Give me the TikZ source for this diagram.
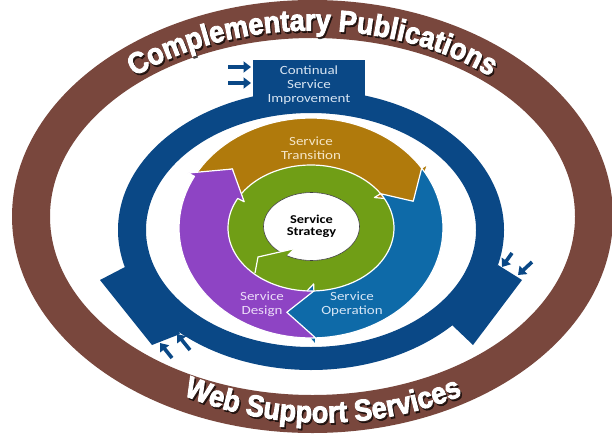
\documentclass[tikz,border=0pt]{standalone}
\usepackage{fontspec}
\setmainfont{Liberation Sans}
\newfontfamily\labfont[FakeStretch=1.2]{Carlito}
\newfontfamily\ringfont[UprightFont={* Bold}, FakeBold=3, FakeStretch=0.9]{Liberation Sans}
\usetikzlibrary{decorations.text,arrows.meta,shapes.geometric}
\definecolor{brownring}{RGB}{121,71,61}
\definecolor{csiblue}{RGB}{10,72,134}
\definecolor{opblue}{RGB}{14,106,168}
\definecolor{goldarr}{RGB}{176,122,12}
\definecolor{purparr}{RGB}{142,68,196}
\definecolor{greenarr}{RGB}{112,158,22}
\definecolor{csitext}{RGB}{215,228,242}
\definecolor{transtext}{RGB}{245,230,200}
\definecolor{destext}{RGB}{236,220,248}
\definecolor{optext}{RGB}{214,230,246}
\newcommand{\cyclearrow}[5]{%
  \filldraw[#1] plot[domain=#2:#4, samples=40] ({ax(\x,1)},{ay(\x,1)})
    -- ({ax(#4,1.15)},{ay(#4,1.15)}) -- ({ax(#5,0.5)},{ay(#5,0.5)})
    -- ({ax(#4,-0.15)},{ay(#4,-0.15)})
    -- plot[domain=#4:#2, samples=40] ({ax(\x,0)},{ay(\x,0)})
    -- ({ax(#3,0.5)},{ay(#3,0.5)}) -- cycle;}
\begin{document}
\begin{tikzpicture}[x=1pt,y=1pt,
  declare function={ax(\ang,\rad)=311+(83+49*\rad)*cos(\ang); ay(\ang,\rad)=212+(63+47*\rad)*sin(\ang);},
  lab/.style={align=center, inner sep=0pt, font=\labfont\fontsize{12.5}{14}\selectfont},
  smallarrow/.style={draw=csiblue, line width=3.6pt, -{Triangle[length=7.5pt,width=11pt]}},
  cyc/.style={draw=white, line width=1.2pt, line join=round},
  ringtxt/.style={decorate, decoration={text along path, text align=center, text color=#1}},
]
\useasboundingbox (0,0) rectangle (612,440);
\fill[white] (0,0) rectangle (612,440);
% brown outer ring
\fill[brownring, even odd rule] (312.5,223.5) ellipse[x radius=300.5, y radius=216.5]
  (312.5,223.5) ellipse[x radius=262.5, y radius=178.5];
% CSI ring
\fill[csiblue, even odd rule] (311,210) ellipse[x radius=193, y radius=140]
  (311,210) ellipse[x radius=165, y radius=117];
\fill[csiblue] (125,173) -- (100,160) -- (152,95) -- (180,106) -- (170,125) -- (135,165) -- cycle;
\fill[csiblue] (498,175) -- (522,160) -- (473,95) -- (452,115) -- (470,140) -- (488,165) -- cycle;
\node[fill=csiblue, minimum width=112pt, minimum height=50pt, lab, text=csitext] (csi) at (309,355) {Continual\\Service\\Improvement};
% small arrows
\coordinate (ta1) at (228,373); \coordinate (ta2) at (251,373);
\coordinate (tb1) at (228,357); \coordinate (tb2) at (251,357);
\coordinate (ra1) at (512,187); \coordinate (ra2) at (502,173);
\coordinate (rb1) at (532,178); \coordinate (rb2) at (518,165);
\coordinate (la1) at (172,82);  \coordinate (la2) at (160,97);
\coordinate (lb1) at (190,90);  \coordinate (lb2) at (177,106);
\draw[smallarrow] (ta1) -- (ta2);
\draw[smallarrow] (tb1) -- (tb2);
\draw[smallarrow] (ra1) -- (ra2);
\draw[smallarrow] (rb1) -- (rb2);
\draw[smallarrow] (la1) -- (la2);
\draw[smallarrow] (lb1) -- (lb2);
% green ring
\fill[greenarr, even odd rule] (311,212) ellipse[x radius=84, y radius=64]
  (311.5,213.5) ellipse[x radius=48, y radius=34];
\draw[black!60, line width=0.6pt] (311,212) ellipse[x radius=84, y radius=64];
% cycle arrows
\cyclearrow{cyc, fill=goldarr}{152}{137}{33}{18}
\cyclearrow{cyc, fill=opblue}{33}{18}{-88}{-103}
\cyclearrow{cyc, fill=purparr}{272}{257}{152}{137}
% centre
\node[ellipse, fill=white, draw=black!75, line width=0.6pt, minimum width=96pt, minimum height=68pt,
  inner sep=0pt, align=center, font=\labfont\bfseries\fontsize{12}{12.5}\selectfont] (strat) at (311.5,213.5) {Service\\Strategy};
\fill[greenarr] (262,184) -- (293,191) -- (280,178) -- cycle;
\draw[white, line width=1.2pt] (255,167) -- (258,183) -- (293,191);
% labels
\node[lab, text=transtext] (trans) at (311,292) {Service\\Transition};
\node[lab, text=destext] (des) at (262,136) {Service\\Design};
\node[lab, text=optext] (op) at (352,136) {Service\\Operation};
% ring texts
\begin{scope}[opacity=0.6]
\path[ringtxt=black, decoration={text={|\ringfont\fontsize{30}{30}\selectfont|Complementary Publications}}]
  (314,221.5) ++(165:270 and 186) arc[start angle=165, end angle=15, x radius=270, y radius=186];
\path[ringtxt=black, decoration={text={|\ringfont\fontsize{30}{30}\selectfont|Web Support Services}}]
  (324.5,221.5) ++(205:280 and 206) arc[start angle=205, end angle=335, x radius=280, y radius=206];
\end{scope}
\path[ringtxt=white, decoration={text={|\ringfont\fontsize{30}{30}\selectfont|Complementary Publications}}]
  (312.5,223.5) ++(165:270 and 186) arc[start angle=165, end angle=15, x radius=270, y radius=186];
\path[ringtxt=white, decoration={text={|\ringfont\fontsize{30}{30}\selectfont|Web Support Services}}]
  (323,223.5) ++(205:280 and 206) arc[start angle=205, end angle=335, x radius=280, y radius=206];
\end{tikzpicture}
\end{document}
